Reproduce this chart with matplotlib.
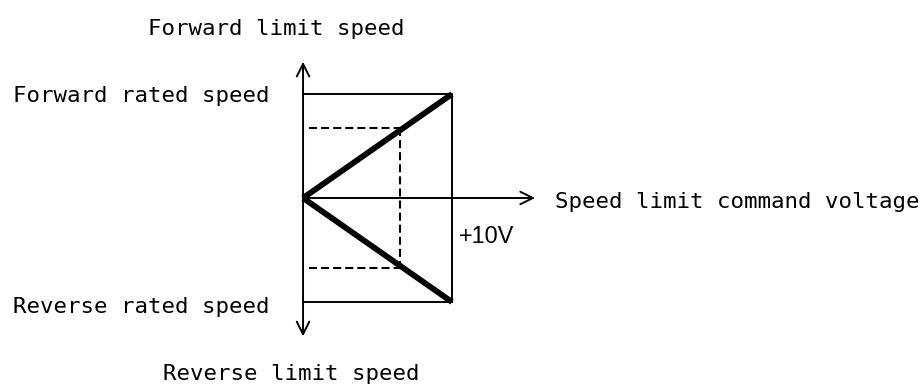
import matplotlib
matplotlib.use('Agg')
import matplotlib.pyplot as plt

# speed limit characteristic: command voltage (V) vs speed (fraction of rated)
cmd_volt = [0, 10]
fwd_speed = [0, 1]
rev_speed = [0, -1]
# example operating point drawn with dashed guides
cmd_example = 6.5
speed_example = 0.67

labels = {
    'fwd_limit': 'Forward limit speed',
    'fwd_rated': 'Forward rated speed',
    'rev_rated': 'Reverse rated speed',
    'rev_limit': 'Reverse limit speed',
    'x_axis': 'Speed limit command voltage',
    'v_max': '+10V',
}

plt.rcParams['lines.scale_dashes'] = False

fig = plt.figure(figsize=(9.24, 3.85), dpi=100)
ax = fig.add_axes([0, 0, 1, 1])
ax.set_xlim(-20.34, 41.68)
ax.set_ylim(-1.798, 1.904)
ax.axis('off')

thin = 1.4
arrow = dict(arrowstyle='->,head_length=0.9,head_width=0.45', lw=thin,
             color='black', shrinkA=0, shrinkB=0)

# axes with open arrow heads
ax.annotate('', xy=(0, 1.31), xytext=(0, 0), arrowprops=arrow)
ax.annotate('', xy=(0, -1.33), xytext=(0, 0), arrowprops=arrow)
ax.annotate('', xy=(15.57, 0), xytext=(0, 0), arrowprops=arrow)

# rated speed box
ax.plot(cmd_volt, [fwd_speed[1]] * 2, color='black', lw=thin)
ax.plot(cmd_volt, [rev_speed[1]] * 2, color='black', lw=thin)
ax.plot([cmd_volt[1]] * 2, [rev_speed[1], fwd_speed[1]], color='black', lw=thin)

# dashed guides for example command
dash = dict(color='black', lw=1.5, dashes=(5.8, 2.9))
ax.plot([0.4, cmd_example], [speed_example] * 2, **dash)
ax.plot([0.4, cmd_example], [-speed_example] * 2, **dash)
ax.plot([cmd_example] * 2, [speed_example, -speed_example], **dash)

# characteristic lines
ax.plot(cmd_volt, fwd_speed, color='black', lw=4.2, solid_capstyle='butt')
ax.plot(cmd_volt, rev_speed, color='black', lw=4.2, solid_capstyle='butt')

mono = dict(family='DejaVu Sans Mono', fontsize=16.1, va='baseline', ha='left')
ax.text(-10.4, 1.567, labels['fwd_limit'], **mono)
ax.text(-19.5, 0.923, labels['fwd_rated'], **mono)
ax.text(-19.5, -1.106, labels['rev_rated'], **mono)
ax.text(-9.4, -1.75, labels['rev_limit'], **mono)
ax.text(16.9, -0.096, labels['x_axis'], **mono)
ax.text(10.47, -0.433, labels['v_max'], family='Liberation Sans',
        fontsize=16.8, va='baseline', ha='left')

fig.savefig('out.png', dpi=100)
